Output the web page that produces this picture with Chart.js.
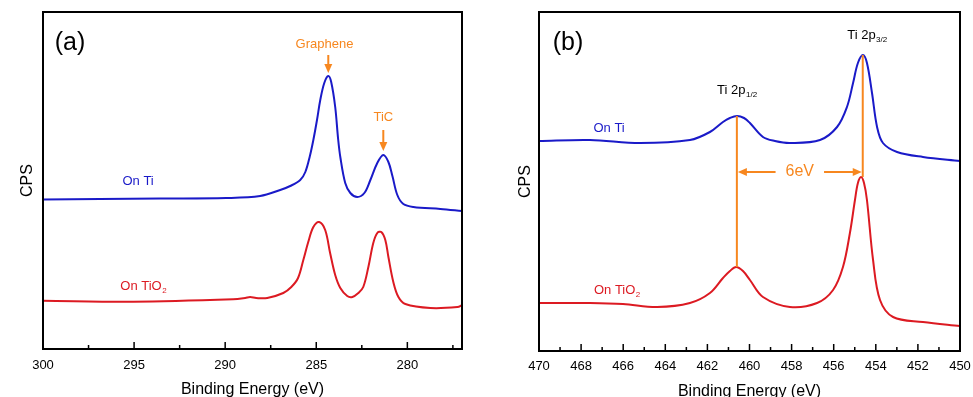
<!DOCTYPE html>
<html>
<head>
<meta charset="utf-8">
<script src="https://cdn.jsdelivr.net/npm/chart.js@4.4.1/dist/chart.umd.min.js"></script>
<style>
  body { margin: 0; background: #fff; width: 973px; height: 397px; overflow: hidden; position: relative; }
  canvas { position: absolute; top: 0; }
  #chartA { left: 0; }
  #chartB { left: 490px; }
</style>
</head>
<body>
<canvas id="chartA" width="485" height="397"></canvas>
<canvas id="chartB" width="483" height="397"></canvas>
<script>
// (a) C 1s region
const aTiEnergy = [300, 296.87, 293.57, 289.95, 288.08, 286.98, 286.43, 285.88, 285.6, 285.35, 285.16, 284.96, 284.78, 284.56, 284.34, 284.18, 283.96, 283.8, 283.68, 283.41, 283.13, 282.75, 282.36, 282.03, 281.65, 281.32, 281.04, 280.82, 280.55, 280.22, 279.67, 278.19, 276.98];
const aTiCps = [149.5, 150, 150.5, 151, 153, 159, 163, 169, 177, 193, 209, 229, 249, 266, 273, 267, 242, 210, 192, 166, 156, 152, 156, 169, 186, 194, 187, 173, 154, 145, 142, 140, 138];
const aTiO2Energy = [300, 295.05, 289.56, 288.9, 288.63, 288.3, 287.69, 286.81, 286.37, 286.0, 285.71, 285.44, 285.16, 284.84, 284.51, 284.24, 283.96, 283.68, 283.3, 283.02, 282.69, 282.42, 282.14, 281.87, 281.65, 281.43, 281.21, 281.04, 280.77, 280.49, 280.11, 278.74, 277.25, 276.98];
const aTiO2Cps = [48.3, 47.3, 49.7, 51, 52, 51, 51, 56, 62, 71, 89, 107, 122, 127, 119, 96, 74, 61, 53, 52, 56, 62, 82, 106, 116, 117, 109, 92, 67, 52, 45, 41, 42, 44];
const aMajorTicks = [300, 295, 290, 285, 280];
const aMinorTicks = [297.5, 292.5, 287.5, 282.5, 277.5];

// (b) Ti 2p region
const bTiEnergy = [470, 467.58, 465.2, 462.83, 461.88, 461.26, 460.93, 460.59, 460.26, 459.98, 459.36, 458.79, 458.08, 456.65, 455.84, 455.37, 455.08, 454.85, 454.61, 454.42, 454.18, 453.94, 453.66, 452.99, 451.76, 450];
const bTiCps = [210, 211, 208, 211, 219, 229, 233, 235, 233, 228, 214, 210, 208, 211, 224, 244, 268, 288, 296, 288, 258, 224, 208, 199, 194, 190];
const bTiO2Energy = [470, 467.58, 466.01, 464.39, 462.83, 461.88, 461.26, 460.93, 460.64, 460.31, 459.98, 459.36, 458.08, 456.79, 456.03, 455.56, 455.23, 454.99, 454.85, 454.7, 454.56, 454.42, 454.13, 453.8, 453.18, 451.76, 450];
const bTiO2Cps = [48, 48, 47, 44, 48, 58, 73, 80, 84, 80, 71, 54, 44, 48, 61, 84, 118, 151, 168, 174, 168, 151, 91, 51, 34, 29, 25];
const bMajorTicks = [470, 468, 466, 464, 462, 460, 458, 456, 454, 452, 450];
const bMinorTicks = [469, 467, 465, 463, 461, 459, 457, 455, 453, 451];

const BLUE = '#1a1ac8';
const RED = '#dc1a22';
const ORANGE = '#f7871f';

Chart.defaults.font.family = '"Liberation Sans", Arial, sans-serif';

function toPoints(xs, ys) {
    return xs.map((x, i) => ({ x: x, y: ys[i] }));
}

function arrowHead(ctx, x, y, dx, dy) {
    // filled triangle with tip at (x, y), pointing along (dx, dy)
    const len = 9, half = 4;
    ctx.beginPath();
    ctx.moveTo(x, y);
    ctx.lineTo(x - dx * len - dy * half, y - dy * len + dx * half);
    ctx.lineTo(x - dx * len + dy * half, y - dy * len - dx * half);
    ctx.closePath();
    ctx.fill();
}

function drawText(ctx, t, px, py) {
    const main = t.size + 'px "Liberation Sans", Arial, sans-serif';
    const subSize = Math.round(t.size * 0.65);
    const subFont = subSize + 'px "Liberation Sans", Arial, sans-serif';
    ctx.font = main;
    const w1 = ctx.measureText(t.text).width;
    let w2 = 0;
    if (t.sub) {
        ctx.font = subFont;
        w2 = ctx.measureText(t.sub).width;
    }
    const x0 = px - (w1 + w2) / 2;
    ctx.fillStyle = t.color;
    ctx.textBaseline = 'middle';
    ctx.textAlign = 'left';
    ctx.font = main;
    ctx.fillText(t.text, x0, py);
    if (t.sub) {
        ctx.font = subFont;
        ctx.fillText(t.sub, x0 + w1 + 0.5, py + t.size * 0.38);
    }
}

const framePlugin = {
    id: 'frame',
    afterDraw(chart, args, opts) {
        const ctx = chart.ctx, a = chart.chartArea, xs = chart.scales.x;
        ctx.save();
        ctx.strokeStyle = '#000';
        ctx.lineWidth = 2;
        ctx.strokeRect(a.left, a.top, a.right - a.left, a.bottom - a.top);
        ctx.lineWidth = 1.5;
        ctx.beginPath();
        opts.major.forEach(v => {
            const px = xs.getPixelForValue(v);
            ctx.moveTo(px, a.bottom);
            ctx.lineTo(px, a.bottom - 7);
        });
        opts.minor.forEach(v => {
            const px = xs.getPixelForValue(v);
            ctx.moveTo(px, a.bottom);
            ctx.lineTo(px, a.bottom - 4);
        });
        ctx.stroke();
        ctx.restore();
    }
};

const notesPlugin = {
    id: 'notes',
    afterDatasetsDraw(chart, args, opts) {
        const ctx = chart.ctx, xs = chart.scales.x, ys = chart.scales.y;
        ctx.save();
        ctx.strokeStyle = ORANGE;
        ctx.fillStyle = ORANGE;
        ctx.lineWidth = 2;
        (opts.lines || []).forEach(l => {
            const px = xs.getPixelForValue(l.x);
            ctx.beginPath();
            ctx.moveTo(px, ys.getPixelForValue(l.y1));
            ctx.lineTo(px, ys.getPixelForValue(l.y2));
            ctx.stroke();
        });
        (opts.arrows || []).forEach(l => {
            const px = xs.getPixelForValue(l.x);
            const p1 = ys.getPixelForValue(l.y1), p2 = ys.getPixelForValue(l.y2);
            ctx.beginPath();
            ctx.moveTo(px, p1);
            ctx.lineTo(px, p2 - 6);
            ctx.stroke();
            arrowHead(ctx, px, p2, 0, 1);
        });
        (opts.spans || []).forEach(s => {
            const x1 = xs.getPixelForValue(s.x1) + 1, x2 = xs.getPixelForValue(s.x2) - 1;
            const py = ys.getPixelForValue(s.y);
            const mid = (x1 + x2) / 2;
            ctx.font = s.size + 'px "Liberation Sans", Arial, sans-serif';
            const gap = ctx.measureText(s.label).width / 2 + 10;
            ctx.beginPath();
            ctx.moveTo(x1 + 6, py);
            ctx.lineTo(mid - gap, py);
            ctx.moveTo(mid + gap, py);
            ctx.lineTo(x2 - 6, py);
            ctx.stroke();
            arrowHead(ctx, x1, py, -1, 0);
            arrowHead(ctx, x2, py, 1, 0);
            drawText(ctx, { text: s.label, size: s.size, color: ORANGE }, mid, py);
        });
        (opts.texts || []).forEach(t => drawText(ctx, t, xs.getPixelForValue(t.x), ys.getPixelForValue(t.y)));
        ctx.restore();
    }
};

function makeChart(id, cfg) {
    return new Chart(document.getElementById(id), {
        type: 'scatter',
        data: {
            datasets: [
                { data: toPoints(cfg.tiX, cfg.tiY), borderColor: BLUE, showLine: true },
                { data: toPoints(cfg.tio2X, cfg.tio2Y), borderColor: RED, showLine: true }
            ]
        },
        options: {
            responsive: false,
            animation: false,
            layout: { padding: cfg.padding },
            elements: {
                point: { radius: 0 },
                line: { borderWidth: 2, tension: 0.35 }
            },
            plugins: {
                legend: { display: false },
                tooltip: { enabled: false },
                frame: { major: cfg.major, minor: cfg.minor },
                notes: cfg.notes
            },
            scales: {
                x: {
                    type: 'linear',
                    reverse: true,
                    min: cfg.xMin,
                    max: cfg.xMax,
                    grid: { display: false },
                    border: { display: false },
                    ticks: {
                        stepSize: cfg.step,
                        includeBounds: false,
                        color: '#000',
                        font: { size: 13 },
                        padding: cfg.tickPad,
                        maxRotation: 0,
                        autoSkip: false
                    },
                    title: {
                        display: true,
                        text: 'Binding Energy (eV)',
                        color: '#000',
                        font: { size: 16 },
                        padding: { top: 0, bottom: cfg.xTitlePad }
                    },
                    afterFit: s => { s.height = cfg.xHeight; }
                },
                y: {
                    min: 0,
                    max: cfg.yMax,
                    grid: { display: false },
                    border: { display: false },
                    ticks: { display: false },
                    title: {
                        display: true,
                        text: 'CPS',
                        color: '#000',
                        font: { size: 16 },
                        padding: { top: cfg.yTitlePad, bottom: 0 }
                    },
                    afterFit: s => { s.width = cfg.yWidth; }
                }
            }
        },
        plugins: [framePlugin, notesPlugin]
    });
}

makeChart('chartA', {
    tiX: aTiEnergy, tiY: aTiCps, tio2X: aTiO2Energy, tio2Y: aTiO2Cps,
    xMin: 277, xMax: 300, step: 5, yMax: 337,
    major: aMajorTicks, minor: aMinorTicks,
    padding: { top: 12, right: 23, left: 0, bottom: 0 },
    xHeight: 48, yWidth: 43, tickPad: 1, xTitlePad: -2, yTitlePad: 18,
    notes: {
        arrows: [
            { x: 284.34, y1: 294, y2: 276 },
            { x: 281.32, y1: 219, y2: 198 }
        ],
        texts: [
            { text: '(a)', x: 298.52, y: 306, size: 25, color: '#000' },
            { text: 'Graphene', x: 284.55, y: 305, size: 13, color: ORANGE },
            { text: 'TiC', x: 281.32, y: 232, size: 13, color: ORANGE },
            { text: 'On Ti', x: 294.78, y: 168, size: 13, color: BLUE },
            { text: 'On TiO', sub: '2', x: 294.5, y: 63, size: 13, color: RED }
        ]
    }
});

makeChart('chartB', {
    tiX: bTiEnergy, tiY: bTiCps, tio2X: bTiO2Energy, tio2Y: bTiO2Cps,
    xMin: 450, xMax: 470, step: 2, yMax: 339,
    major: bMajorTicks, minor: bMinorTicks,
    padding: { top: 12, right: 13, left: 0, bottom: 0 },
    xHeight: 46, yWidth: 49, tickPad: 0, xTitlePad: -4, yTitlePad: 26,
    notes: {
        lines: [
            { x: 460.6, y1: 235, y2: 84 },
            { x: 454.62, y1: 296, y2: 174 }
        ],
        spans: [
            { x1: 460.6, x2: 454.62, y: 179, label: '6eV', size: 16 }
        ],
        texts: [
            { text: '(b)', x: 468.62, y: 308, size: 25, color: '#000' },
            { text: 'Ti 2p', sub: '1/2', x: 460.6, y: 261, size: 13, color: '#000' },
            { text: 'Ti 2p', sub: '3/2', x: 454.42, y: 316, size: 13, color: '#000' },
            { text: 'On Ti', x: 466.67, y: 223, size: 13, color: BLUE },
            { text: 'On TiO', sub: '2', x: 466.3, y: 61, size: 13, color: RED }
        ]
    }
});
</script>
</body>
</html>
